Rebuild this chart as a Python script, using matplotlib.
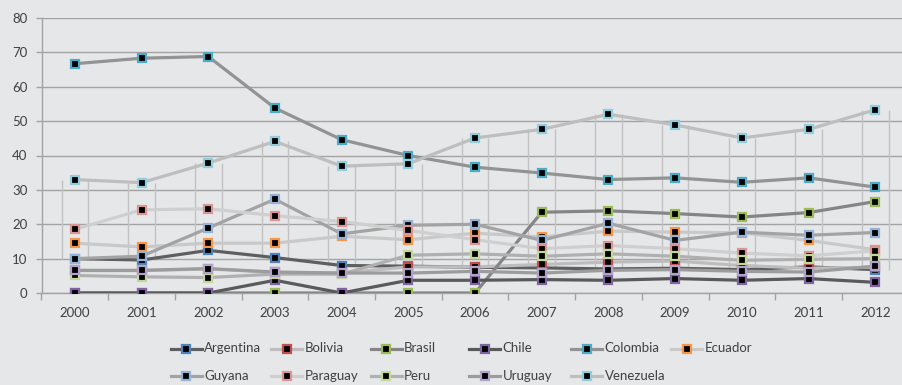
import matplotlib
matplotlib.use("Agg")
import matplotlib.pyplot as plt
from matplotlib.lines import Line2D
import numpy as np

years = ["2000", "2001", "2002", "2003", "2004", "2005", "2006",
         "2007", "2008", "2009", "2010", "2011", "2012"]

argentina = [10.0, 9.6, 12.4, 10.3, 8.0, 7.8, 7.5, 7.3, 7.0, 7.2, 6.8, 7.6, 6.8]
bolivia = [6.5, 6.5, 7.0, 6.0, 5.8, 7.6, 7.6, 8.3, 9.0, 9.3, 8.0, 7.2, 7.5]
brasil = [0.0, 0.0, 0.0, 0.0, 0.0, 0.0, 0.0, 23.5, 23.9, 23.1, 22.1, 23.4, 26.6]
chile = [0.0, 0.0, 0.0, 3.7, 0.0, 3.7, 3.7, 3.9, 3.7, 4.2, 3.7, 4.2, 3.1]
colombia = [66.7, 68.3, 68.8, 53.8, 44.6, 40.0, 36.6, 34.9, 33.0, 33.5, 32.2, 33.5, 30.8]
ecuador = [14.5, 13.4, 14.5, 14.5, 16.5, 15.5, 17.4, 16.3, 18.0, 17.7, 17.5, 15.3, 12.6]
guyana = [10.0, 10.7, 18.9, 27.3, 17.2, 19.7, 20.0, 15.3, 20.3, 15.3, 17.7, 16.8, 17.6]
paraguay = [18.5, 24.2, 24.5, 22.5, 20.8, 18.2, 15.5, 12.9, 13.8, 12.9, 11.6, 10.8, 12.3]
peru = [5.1, 4.7, 4.5, 5.5, 5.5, 11.0, 11.4, 10.7, 11.4, 10.7, 9.5, 9.8, 10.0]
uruguay = [6.6, 6.6, 7.1, 6.1, 5.8, 5.8, 6.3, 5.8, 6.6, 6.8, 6.3, 6.1, 7.8]
venezuela = [33.0, 32.1, 37.8, 44.1, 36.9, 37.6, 45.1, 47.6, 52.0, 48.9, 45.1, 47.6, 53.3]

countries = ["Argentina", "Bolivia", "Brasil", "Chile", "Colombia", "Ecuador",
             "Guyana", "Paraguay", "Peru", "Uruguay", "Venezuela"]
series = [argentina, bolivia, brasil, chile, colombia, ecuador,
          guyana, paraguay, peru, uruguay, venezuela]

line_colors = ["#5f5f5f", "#bdbdbd", "#858585", "#5a5a5a", "#939393", "#c9c9c9",
               "#a3a3a3", "#cfcfcf", "#b0b0b0", "#9c9c9c", "#bebebe"]
edge_colors = ["#4F81BD", "#C0504D", "#9BBB59", "#8064A2", "#4BACC6", "#F79646",
               "#95B3D7", "#D99694", "#C3D69B", "#B3A2C7", "#93CDDD"]

BG = "#e6e7e9"
GRID = "#a3a3a3"
TXT = "#404040"
FONT = "Lato"

W, H = 902, 385
fig = plt.figure(figsize=(W / 100, H / 100), dpi=100, facecolor=BG)

# plot area in pixel coordinates (it runs slightly past the right edge)
left_px, right_px, top_px, bottom_px = 41.5, 908.6, 18.0, 293.0
ax = fig.add_axes([left_px / W, 1 - bottom_px / H,
                   (right_px - left_px) / W, (bottom_px - top_px) / H])
ax.set_facecolor(BG)

x = np.arange(len(years))
ax.set_xlim(-0.5, len(years) - 0.5)
ax.set_ylim(0, 80)

# horizontal gridlines
ax.set_yticks(np.arange(0, 81, 10))
ax.yaxis.grid(True, color=GRID, linewidth=1.0, zorder=0)
ax.set_axisbelow(True)

# up/down bars between the first and last series (only their sides show)
lo = np.minimum(argentina, venezuela)
hi = np.maximum(argentina, venezuela)
half_w = 0.2
ax.vlines(np.concatenate([x - half_w, x + half_w]),
          np.concatenate([lo, lo]), np.concatenate([hi, hi]),
          colors="#c2c2c2", linewidth=1.0, zorder=1.5)

for name, vals, lc, ec in zip(countries, series, line_colors, edge_colors):
    ax.plot(x, vals, color=lc, linewidth=2.3, marker="s", markersize=6.2,
            markerfacecolor="black", markeredgecolor=ec, markeredgewidth=1.6,
            solid_joinstyle="round", zorder=3)

# axes styling
for side in ("top", "right"):
    ax.spines[side].set_visible(False)
for side in ("left", "bottom"):
    ax.spines[side].set_color(GRID)
    ax.spines[side].set_linewidth(1.0)

ax.set_xticks(x)
ax.set_xticklabels(years)
ax.set_xticks(np.arange(-0.5, len(years), 1.0), minor=True)
ax.tick_params(axis="x", which="major", length=0, pad=10,
               labelsize=9.5, labelcolor=TXT)
ax.tick_params(axis="x", which="minor", length=5, color=GRID, width=1.0)
ax.tick_params(axis="y", length=4, color=GRID, width=1.0, pad=6,
               labelsize=9.5, labelcolor=TXT)
for lab in ax.get_xticklabels() + ax.get_yticklabels():
    lab.set_fontfamily(FONT)

# legend laid out in two rows of evenly spaced slots
col_x = [170.7, 271.0, 370.5, 469.0, 571.0, 671.0]
row_y = [348.5, 376.0]
handle_len = 31.0
for i, (name, lc, ec) in enumerate(zip(countries, line_colors, edge_colors)):
    cx = col_x[i % 6]
    cy = row_y[i // 6]
    xs = [cx / W, (cx + handle_len) / W]
    ys = [1 - cy / H] * 2
    fig.add_artist(Line2D(xs, ys, color=lc, linewidth=2.3,
                          transform=fig.transFigure))
    fig.add_artist(Line2D([(cx + handle_len / 2) / W], [1 - cy / H],
                          marker="s", markersize=6.2, markerfacecolor="black",
                          markeredgecolor=ec, markeredgewidth=1.6,
                          linestyle="none", transform=fig.transFigure))
    fig.text((cx + handle_len + 2.5) / W, 1 - cy / H, name, fontsize=9.5,
             color=TXT, family=FONT, ha="left", va="center")

fig.savefig("out.png", dpi=100, facecolor=BG)
